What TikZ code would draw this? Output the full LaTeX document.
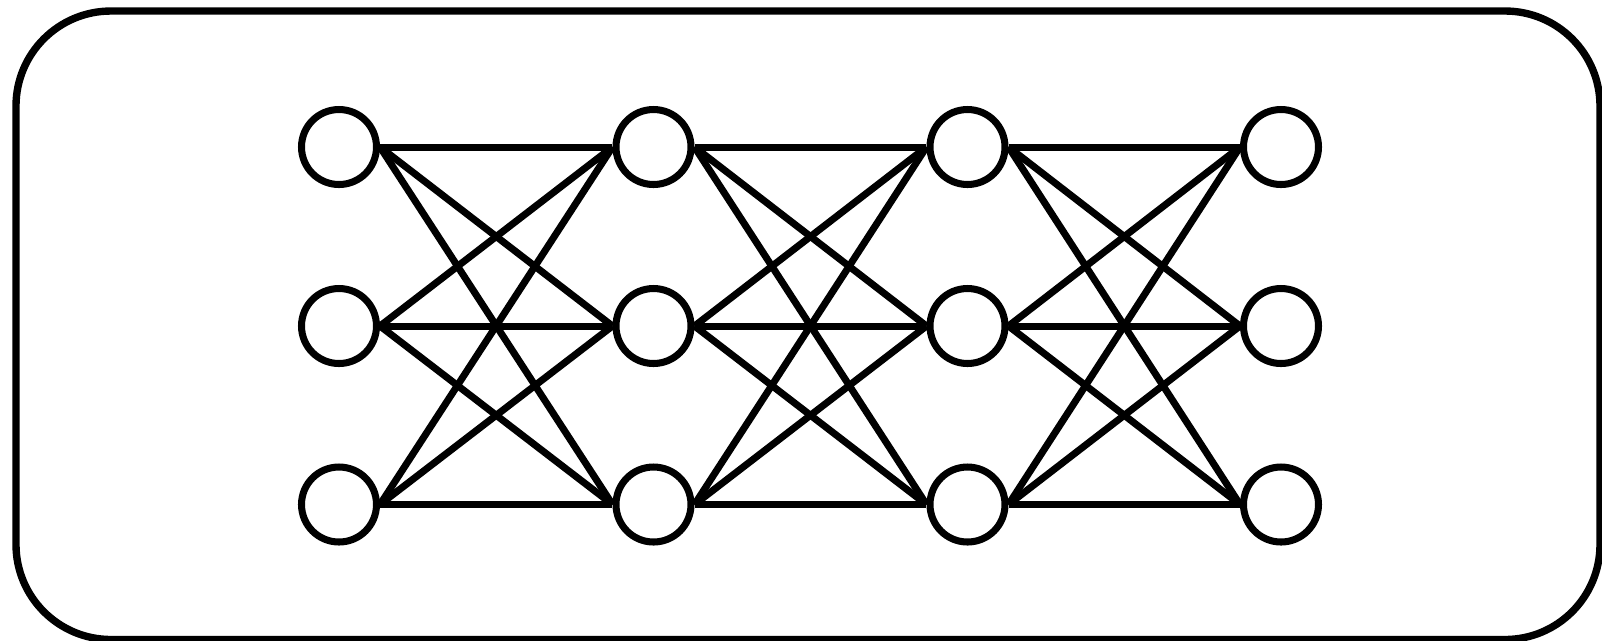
\documentclass[tikz,border=0pt]{standalone}
\usepackage{tikz}
\usetikzlibrary{positioning}
\begin{document}
\begin{tikzpicture}[x=1mm,y=1mm,
  frame/.style={draw=black, line width=2.1pt, rounded corners=9.5mm},
  unit/.style={circle, draw=black, fill=white, line width=2pt,
               minimum size=7.5mm, inner sep=0pt},
  link/.style={draw=black, line width=2pt}]
  \useasboundingbox (0,0) rectangle (160.2,-64);
  \draw[frame] (1.6,-1.1) rectangle (160.0,-63.95);
  % layers of units: column \c, row \r
  \foreach \c/\x in {1/33.9,2/65.35,3/96.75,4/128.1}{
    \foreach \r/\y in {1/-14.7,2/-32.6,3/-50.45}{
      \node[unit] (n\c\r) at (\x,\y) {};
    }
  }
  % full connections between neighbouring layers
  \foreach \c/\d in {1/2,2/3,3/4}{
    \foreach \r in {1,2,3}{
      \foreach \s in {1,2,3}{
        \draw[link] (n\c\r.east) -- (n\d\s.west);
      }
    }
  }
\end{tikzpicture}
\end{document}
